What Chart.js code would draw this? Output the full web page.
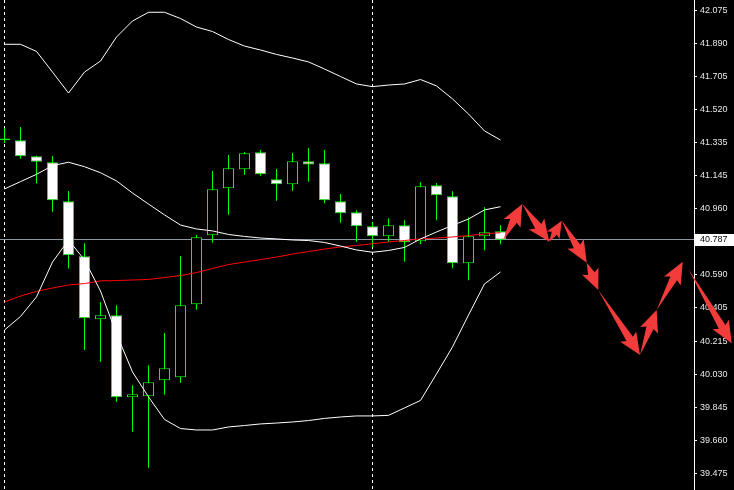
<!DOCTYPE html>
<html>
<head>
<meta charset="utf-8">
<script src="https://cdn.jsdelivr.net/npm/chart.js@4/dist/chart.umd.min.js"></script>
<style>
  html, body { margin: 0; padding: 0; background: #000; }
  #wrap { width: 734px; height: 490px; position: relative; }
</style>
</head>
<body>
<div id="wrap"><canvas id="chart"></canvas></div>
<script>
// candles, one per bar index
const opens  = [41.356, 41.345, 41.255, 41.222, 41.003, 40.693, 40.339, 40.362, 39.901, 39.906,
                39.996, 40.013, 40.424, 40.811, 41.076, 41.182, 41.278, 41.126, 41.098, 41.227,
                41.216, 41.003, 40.941, 40.862, 40.806, 40.868, 40.778, 41.092, 41.031, 40.654,
                40.806, 40.834];
const highs  = [41.415, 41.420, 41.258, 41.257, 41.060, 40.766, 40.436, 40.418, 39.968, 40.081,
                40.262, 40.695, 40.813, 41.173, 41.263, 41.280, 41.291, 41.184, 41.274, 41.302,
                41.291, 41.044, 40.952, 40.885, 40.907, 40.896, 41.109, 41.105, 41.059, 40.913,
                40.969, 40.868];
const lows   = [41.330, 41.242, 41.104, 40.944, 40.624, 40.167, 40.101, 39.876, 39.707, 39.505,
                39.915, 39.983, 40.393, 40.770, 40.927, 41.152, 41.146, 41.006, 41.062, 41.113,
                40.991, 40.882, 40.775, 40.744, 40.775, 40.663, 40.761, 40.896, 40.626, 40.558,
                40.727, 40.761];
const closes = [41.347, 41.255, 41.225, 41.008, 40.699, 40.345, 40.362, 39.901, 39.918, 39.985,
                40.064, 40.418, 40.800, 41.070, 41.188, 41.272, 41.154, 41.098, 41.227, 41.210,
                41.008, 40.935, 40.862, 40.806, 40.868, 40.772, 41.087, 41.036, 40.654, 40.806,
                40.828, 40.787];

// bollinger bands + moving average
const upperBand = [41.885, 41.885, 41.845, 41.729, 41.611, 41.729, 41.791, 41.926, 42.016, 42.065,
                   42.065, 42.030, 41.982, 41.957, 41.912, 41.875, 41.853, 41.828, 41.808, 41.786,
                   41.746, 41.704, 41.662, 41.647, 41.656, 41.662, 41.687, 41.651, 41.578, 41.493,
                   41.398, 41.347];
const middleBand = [41.072, 41.113, 41.154, 41.203, 41.222, 41.197, 41.163, 41.117, 41.049, 40.987,
                    40.926, 40.869, 40.847, 40.836, 40.816, 40.805, 40.796, 40.791, 40.785, 40.782,
                    40.771, 40.751, 40.729, 40.716, 40.726, 40.743, 40.791, 40.830, 40.867, 40.903,
                    40.954, 40.972];
const lowerBand = [40.279, 40.355, 40.465, 40.661, 40.785, 40.673, 40.498, 40.257, 40.043, 39.903,
                   39.776, 39.725, 39.717, 39.717, 39.734, 39.742, 39.751, 39.756, 39.762, 39.770,
                   39.782, 39.790, 39.796, 39.796, 39.799, 39.841, 39.883, 40.032, 40.184, 40.363,
                   40.538, 40.605];
const slowMA = [40.437, 40.470, 40.496, 40.515, 40.532, 40.540, 40.555, 40.557, 40.560, 40.563,
                40.574, 40.585, 40.602, 40.625, 40.647, 40.661, 40.675, 40.689, 40.706, 40.720,
                40.734, 40.746, 40.754, 40.764, 40.774, 40.782, 40.791, 40.796, 40.802, 40.810,
                40.819, 40.826];

const yTicks = [42.075, 41.890, 41.705, 41.520, 41.335, 41.145, 40.960, 40.590,
                40.405, 40.215, 40.030, 39.845, 39.660, 39.475];
const lastPrice = 40.787;
const separators = [0, 23];

// forecast arrows (bar index, price)
const forecastX = [31.18, 32.36, 34.05, 34.83, 36.39, 37.11, 39.72, 40.76, 42.39];
const forecastY = [40.785, 40.987, 40.775, 40.893, 40.657, 40.504, 40.139, 40.392, 40.663];
const finalArrowX = [42.74, 45.45];
const finalArrowY = [40.622, 40.204];

const idx = opens.map((_, i) => i);
const bodyData = idx.map(i => ({x: i, y: [Math.min(opens[i], closes[i]), Math.max(opens[i], closes[i])]}));
const wickData = idx.map(i => ({x: i, y: [lows[i], highs[i]]}));
const bodyFill = idx.map(i => closes[i] < opens[i] ? '#ffffff' : '#000000');
const asLine = arr => arr.map((v, i) => ({x: i, y: v}));

const GREEN = '#00ff00';
const ARROW = '#f23c3c';

function lineSet(values, color) {
    return {
        type: 'line',
        data: asLine(values),
        borderColor: color,
        borderWidth: 1,
        pointRadius: 0,
        tension: 0,
        order: 0
    };
}

function drawArrow(ctx, x0, y0, x1, y1) {
    let dx = x1 - x0, dy = y1 - y0;
    let len = Math.hypot(dx, dy);
    let ux = dx / len, uy = dy / len;
    let nx = -uy, ny = ux;
    let head = Math.min(19, len * 0.6);
    let hw = head * 0.5;
    let sw = head * 0.2;
    let bx = x1 - ux * head, by = y1 - uy * head;
    let cx = bx - ux * head * 0.15, cy = by - uy * head * 0.15;
    ctx.beginPath();
    ctx.moveTo(x0, y0);
    ctx.lineTo(bx + nx * sw, by + ny * sw);
    ctx.lineTo(cx + nx * hw, cy + ny * hw);
    ctx.lineTo(x1, y1);
    ctx.lineTo(cx - nx * hw, cy - ny * hw);
    ctx.lineTo(bx - nx * sw, by - ny * sw);
    ctx.closePath();
    ctx.fill();
}

const backdrop = {
    id: 'backdrop',
    beforeDatasetsDraw(chart) {
        const {ctx, chartArea, scales} = chart;
        ctx.save();
        ctx.strokeStyle = '#ffffff';
        ctx.lineWidth = 1;
        ctx.setLineDash([3, 3]);
        for (let s of separators) {
            let x = Math.floor(scales.x.getPixelForValue(s)) + 0.5;
            ctx.beginPath();
            ctx.moveTo(x, chartArea.top);
            ctx.lineTo(x, chartArea.bottom);
            ctx.stroke();
        }
        ctx.setLineDash([]);
        let y = Math.floor(scales.y.getPixelForValue(lastPrice)) + 0.5;
        ctx.strokeStyle = 'rgb(140,150,165)';
        ctx.beginPath();
        ctx.moveTo(chartArea.left, y);
        ctx.lineTo(chartArea.right, y);
        ctx.stroke();
        ctx.restore();
    },
    afterDraw(chart) {
        const {ctx, chartArea, scales} = chart;
        ctx.save();
        // price box
        let y = scales.y.getPixelForValue(lastPrice);
        ctx.fillStyle = '#ffffff';
        ctx.fillRect(chartArea.right + 1, Math.round(y) - 6, chart.width - chartArea.right - 1, 12);
        ctx.fillStyle = '#000000';
        ctx.font = '9px "Liberation Sans"';
        ctx.textBaseline = 'middle';
        ctx.fillText(lastPrice.toFixed(3), chartArea.right + 6, Math.round(y));
        // forecast arrows
        ctx.fillStyle = ARROW;
        for (let i = 0; i < forecastX.length - 1; i++) {
            drawArrow(ctx,
                scales.x.getPixelForValue(forecastX[i]), scales.y.getPixelForValue(forecastY[i]),
                scales.x.getPixelForValue(forecastX[i + 1]), scales.y.getPixelForValue(forecastY[i + 1]));
        }
        drawArrow(ctx,
            scales.x.getPixelForValue(finalArrowX[0]), scales.y.getPixelForValue(finalArrowY[0]),
            scales.x.getPixelForValue(finalArrowX[1]), scales.y.getPixelForValue(finalArrowY[1]));
        ctx.restore();
    }
};

new Chart(document.getElementById('chart'), {
    type: 'bar',
    data: {
        datasets: [
            lineSet(upperBand, '#ffffff'),
            lineSet(middleBand, '#ffffff'),
            lineSet(lowerBand, '#ffffff'),
            lineSet(slowMA, '#ff0000'),
            {
                data: bodyData,
                backgroundColor: bodyFill,
                borderColor: GREEN,
                borderWidth: 1,
                borderSkipped: false,
                inflateAmount: 0,
                barThickness: 11,
                grouped: false,
                order: 1
            },
            {
                data: wickData,
                backgroundColor: GREEN,
                borderWidth: 0,
                inflateAmount: 0,
                barThickness: 1,
                grouped: false,
                order: 2
            }
        ]
    },
    options: {
        responsive: true,
        maintainAspectRatio: false,
        animation: false,
        events: [],
        layout: {padding: 0},
        plugins: {legend: {display: false}, tooltip: {enabled: false}},
        scales: {
            x: {type: 'linear', min: -0.28125, max: 43.09375, offset: false, display: false},
            y: {
                position: 'right',
                min: 39.3796,
                max: 42.134,
                afterBuildTicks: scale => { scale.ticks = yTicks.map(v => ({value: v})); },
                afterFit: scale => { scale.width = 40; scale.paddingTop = 0; scale.paddingBottom = 0; },
                grid: {drawOnChartArea: false, drawTicks: true, tickLength: 3, color: '#ffffff', tickColor: '#ffffff'},
                border: {display: true, color: '#ffffff', width: 1},
                ticks: {
                    color: '#e8e8e8',
                    padding: 3,
                    autoSkip: false,
                    font: {family: 'Liberation Sans', size: 9},
                    callback: v => Number(v).toFixed(3)
                }
            }
        }
    },
    plugins: [backdrop]
});
</script>
</body>
</html>
